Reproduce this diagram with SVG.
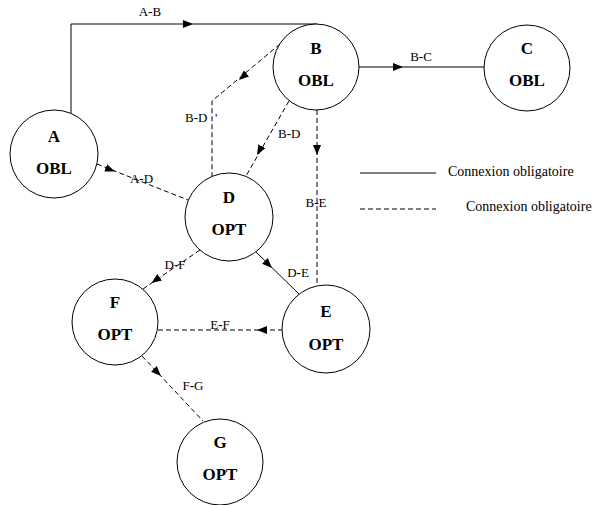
<svg xmlns="http://www.w3.org/2000/svg" width="597" height="505" viewBox="0 0 597 505">
  <style>
    .node circle { fill: #ffffff; stroke: #000000; stroke-width: 1; }
    .node text { font-family: 'Liberation Serif', 'DejaVu Serif', serif; font-size: 17px; font-weight: bold; text-anchor: middle; fill: #000000; }
    .solid { fill: none; stroke: #000000; stroke-width: 1; }
    .dashed { fill: none; stroke: #000000; stroke-width: 1; stroke-dasharray: 5 3; }
    .tip { fill: none; stroke: none; }
    .lbl { font-family: 'Liberation Serif', 'DejaVu Serif', serif; font-size: 13px; fill: #000000; }
    .mid { text-anchor: middle; }
    .legend { font-family: 'Liberation Serif', 'DejaVu Serif', serif; font-size: 14px; fill: #000000; }
  </style>
  <defs>
    <marker id="arrow" viewBox="0 0 10 8" refX="10" refY="4" markerWidth="10" markerHeight="8" markerUnits="userSpaceOnUse" orient="auto">
      <path d="M0,0 L10,4 L0,8 z" fill="#000000"/>
    </marker>
  </defs>

  <!-- connectors -->
  <g id="connectors">
    <!-- A-B -->
    <path class="solid" d="M71,113 V24 H317"/>
    <path class="tip" d="M183,24 L193,24" marker-end="url(#arrow)"/>
    <text class="lbl mid" x="150" y="16">A<tspan font-weight="bold">-</tspan>B</text>
    <!-- B-C -->
    <path class="solid" d="M359,67 H484"/>
    <path class="tip" d="M393,67 L403,67" marker-end="url(#arrow)"/>
    <text class="lbl mid" x="421" y="61">B<tspan font-weight="bold">-</tspan>C</text>
    <!-- B-D' -->
    <path class="dashed" d="M280,44 L212,101 V176"/>
    <path class="tip" d="M247,73 L239,80" marker-end="url(#arrow)"/>
    <text class="lbl" x="185" y="122">B<tspan font-weight="bold">-</tspan>D<tspan x="215">'</tspan></text>
    <!-- B-D -->
    <path class="dashed" d="M289,101 L246,176"/>
    <path class="tip" d="M262,146 L257,155" marker-end="url(#arrow)"/>
    <text class="lbl" x="278" y="138">B<tspan font-weight="bold">-</tspan>D</text>
    <!-- B-E -->
    <path class="dashed" d="M317,110 V286"/>
    <path class="tip" d="M317,145 L317,155" marker-end="url(#arrow)"/>
    <text class="lbl mid" x="316" y="207">B<tspan font-weight="bold">-</tspan>E</text>
    <!-- A-D -->
    <path class="dashed" d="M97,164 L188,200"/>
    <path class="tip" d="M106,168 L115,171.5" marker-end="url(#arrow)"/>
    <text class="lbl mid" x="141.5" y="183">A<tspan font-weight="bold">-</tspan>D</text>
    <!-- D-F -->
    <path class="dashed" d="M200,250 L143,289"/>
    <path class="tip" d="M160,277 L151.5,283" marker-end="url(#arrow)"/>
    <text class="lbl mid" x="175" y="269">D<tspan font-weight="bold">-</tspan>F</text>
    <!-- D-E -->
    <path class="solid" d="M256,252 L299,294"/>
    <path class="tip" d="M265,261 L272,268" marker-end="url(#arrow)"/>
    <text class="lbl mid" x="298" y="277">D<tspan font-weight="bold">-</tspan>E</text>
    <!-- E-F -->
    <path class="dashed" d="M158,330 H282"/>
    <path class="tip" d="M267,330 L257,330" marker-end="url(#arrow)"/>
    <text class="lbl mid" x="220" y="329">E<tspan font-weight="bold">-</tspan>F</text>
    <!-- F-G -->
    <path class="dashed" d="M142,356 L203,421"/>
    <path class="tip" d="M154,369 L161,376" marker-end="url(#arrow)"/>
    <text class="lbl mid" x="193" y="390">F<tspan font-weight="bold">-</tspan>G</text>
  </g>

  <!-- nodes -->
  <g id="node-A" class="node">
    <circle cx="54" cy="154" r="44"/>
    <text x="54" y="142">A</text>
    <text x="54" y="174">OBL</text>
  </g>
  <g id="node-B" class="node">
    <circle cx="316" cy="67" r="43"/>
    <text x="316" y="54">B</text>
    <text x="316" y="86">OBL</text>
  </g>
  <g id="node-C" class="node">
    <circle cx="527" cy="68" r="43"/>
    <text x="527" y="54">C</text>
    <text x="527" y="86">OBL</text>
  </g>
  <g id="node-D" class="node">
    <circle cx="229" cy="217" r="44"/>
    <text x="229" y="203">D</text>
    <text x="229" y="235">OPT</text>
  </g>
  <g id="node-E" class="node">
    <circle cx="326" cy="329" r="44"/>
    <text x="326" y="317">E</text>
    <text x="326" y="350">OPT</text>
  </g>
  <g id="node-F" class="node">
    <circle cx="115" cy="322" r="43"/>
    <text x="115" y="308">F</text>
    <text x="115" y="340">OPT</text>
  </g>
  <g id="node-G" class="node">
    <circle cx="220" cy="462" r="43"/>
    <text x="220" y="448">G</text>
    <text x="220" y="480">OPT</text>
  </g>

  <!-- legend -->
  <g id="legend">
    <path class="solid" d="M360,173 H436"/>
    <text class="legend" x="448" y="176">Connexion obligatoire</text>
    <path class="dashed" d="M360,209 H436"/>
    <text class="legend" x="466" y="211">Connexion obligatoire</text>
  </g>
</svg>
